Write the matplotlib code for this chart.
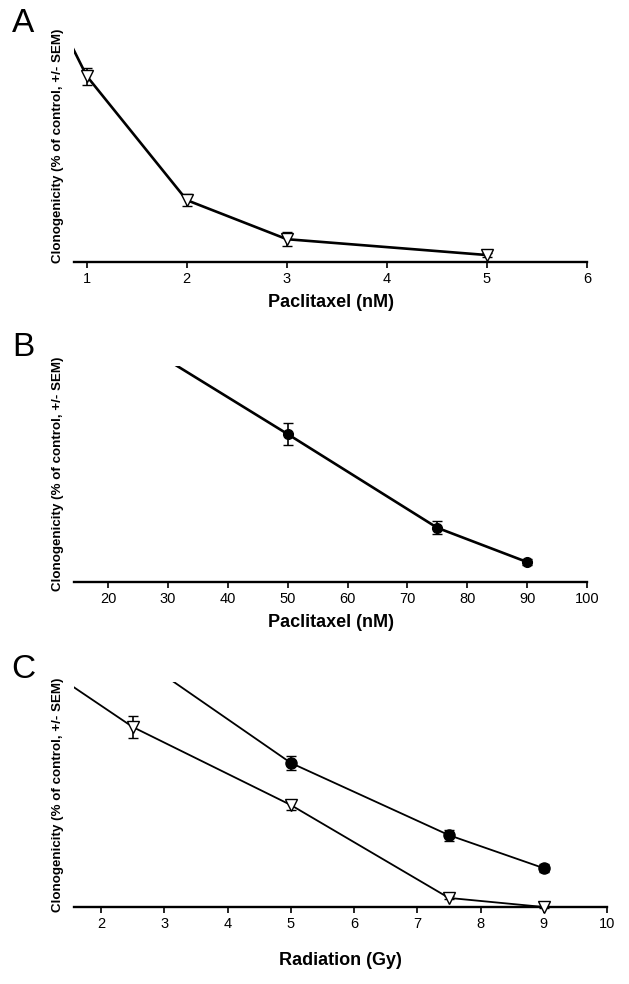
import matplotlib
matplotlib.use('Agg')
import matplotlib.pyplot as plt

plt.rcParams['font.family'] = ['Liberation Sans', 'DejaVu Sans']

# Panel A: paclitaxel (nM), open triangles
a_dose = [0, 1, 2, 3, 5]
a_clono = [100, 48.1, 16.0, 5.9, 1.8]
a_sem = [0, 2.2, 1.6, 1.8, 0.6]

# Panel B: paclitaxel (nM), filled circles
b_dose = [0, 50, 75, 90]
b_clono = [100, 44.5, 16.3, 6.0]
b_sem = [0, 3.2, 2.0, 0.9]

# Panel C: radiation (Gy), two series
c_dose_filled = [0, 5, 7.5, 9]
c_clono_filled = [100, 39.7, 19.8, 10.7]
c_sem_filled = [0, 1.9, 1.5, 1.1]

c_dose_open = [0, 2.5, 5, 7.5, 9]
c_clono_open = [79, 49.6, 28.1, 2.5, 0.0]
c_sem_open = [0, 3.0, 1.3, 0.4, 0.3]

W, H = 629, 984
fig = plt.figure(figsize=(W / 100, H / 100), dpi=100)


def add_ax(left, right, top, bottom):
    return fig.add_axes([left / W, 1 - bottom / H, (right - left) / W, (bottom - top) / H])


def style(ax, xlim, ylim, ticks, xlabel, letter, letter_y, labpad):
    ax.set_xlim(*xlim)
    ax.set_ylim(*ylim)
    for s in ['top', 'right', 'left']:
        ax.spines[s].set_visible(False)
    ax.spines['bottom'].set_linewidth(1.7)
    ax.set_yticks([])
    ax.set_xticks(ticks)
    ax.set_xticklabels([str(t) for t in ticks])
    ax.tick_params(axis='x', direction='out', length=4, width=1.2, labelsize=10.5, pad=3)
    ax.set_xlabel(xlabel, fontsize=13, fontweight='bold', labelpad=labpad)
    ax.set_ylabel('Clonogenicity (% of control, +/- SEM)', fontsize=9.6, fontweight='bold', labelpad=7)
    fig.text(23 / W, 1 - letter_y / H, letter, fontsize=24, ha='center', va='center')


def series(ax, x, y, err, marker, face, lw, ms):
    ax.plot(x, y, color='black', lw=lw, zorder=2)
    ax.errorbar(x[1:], y[1:], yerr=err[1:], fmt=marker, mfc=face, mec='black', mew=1.0,
                ms=ms, ecolor='black', elinewidth=1.2, capsize=3.5, capthick=1.2,
                clip_on=False, zorder=5)


axA = add_ax(74, 587, 30, 262)
series(axA, a_dose, a_clono, a_sem, 'v', 'white', 1.9, 8)
style(axA, (0.873, 6.0), (0, 60), [1, 2, 3, 4, 5, 6], 'Paclitaxel (nM)', 'A', 23, 6)

axB = add_ax(74, 587, 366, 582)
series(axB, b_dose, b_clono, b_sem, 'o', 'black', 1.9, 7)
style(axB, (14.3, 100), (0, 65), [20, 30, 40, 50, 60, 70, 80, 90, 100], 'Paclitaxel (nM)', 'B', 348, 6)

axC = add_ax(74, 607, 682, 907)
series(axC, c_dose_filled, c_clono_filled, c_sem_filled, 'o', 'black', 1.3, 8)
series(axC, c_dose_open, c_clono_open, c_sem_open, 'v', 'white', 1.3, 8)
style(axC, (1.571, 10), (0, 62), [2, 3, 4, 5, 6, 7, 8, 9, 10], 'Radiation (Gy)', 'C', 670, 15)

fig.savefig('out.png', dpi=100)
